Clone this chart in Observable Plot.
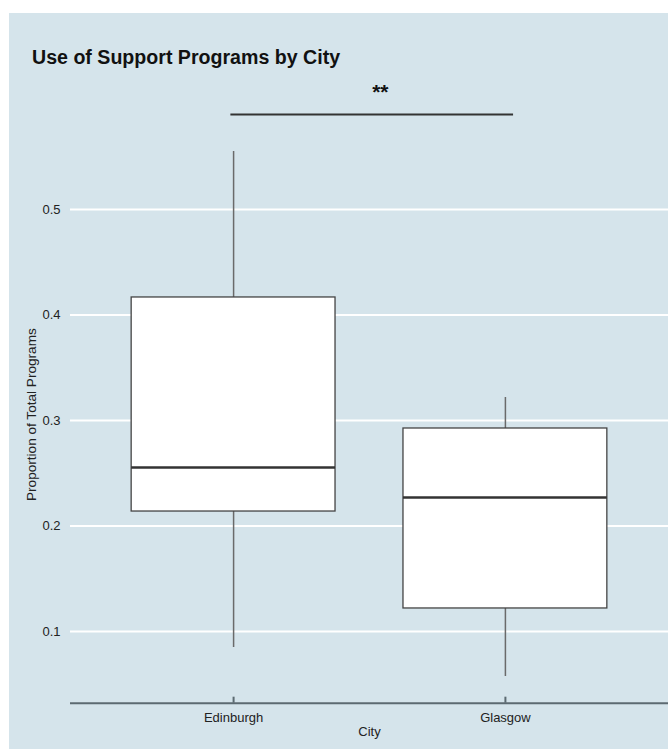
<!DOCTYPE html>
<html>
<head>
<meta charset="utf-8">
<script src="https://cdn.jsdelivr.net/npm/d3@7"></script>
<script src="https://cdn.jsdelivr.net/npm/@observablehq/plot@0.6"></script>
<style>
  html, body { margin: 0; padding: 0; background: #ffffff; }
  #page { position: relative; width: 668px; height: 749px; overflow: hidden; }
  #bg { position: absolute; left: 9px; top: 13px; width: 659px; height: 736px; background: #d5e4eb; }
  #title { position: absolute; left: 32px; top: 46px; font-family: "Liberation Sans", Arial, sans-serif;
           font-weight: bold; font-size: 19.6px; color: #111; white-space: nowrap; }
  #chart { position: absolute; left: 0; top: 0; }
</style>
</head>
<body>
<div id="page">
  <div id="bg"></div>
  <div id="title">Use of Support Programs by City</div>
  <div id="chart"></div>
</div>
<script>
// Data
const cities = ["Edinburgh", "Glasgow"];
const whiskerLow = [0.0848, 0.0573];
const q1 = [0.2137, 0.1218];
const median = [0.2555, 0.227];
const q3 = [0.4166, 0.2924];
const whiskerHigh = [0.555, 0.3218];
const yTicks = [0.1, 0.2, 0.3, 0.4, 0.5];
const sigBarX = [0.99, 2.03];
const sigBarY = 0.590;
const sigLabel = "**";
const sigLabelX = 1.54;
const sigLabelY = 0.611;
const yAxisTitle = "Proportion of Total Programs";
const xAxisTitle = "City";

const rows = cities.map((c, i) => ({
  city: c, pos: i + 1,
  low: whiskerLow[i], q1: q1[i], median: median[i], q3: q3[i], high: whiskerHigh[i]
}));

const yMin = 0.032, yMax = 0.6;
const halfW = 0.375;

const chart = Plot.plot({
  width: 668,
  height: 749,
  marginLeft: 70,
  marginRight: 0,
  marginTop: 103.5,
  marginBottom: 46.3,
  style: { fontFamily: "'Liberation Sans', Arial, sans-serif", fontSize: "13px", background: "transparent", color: "#222", overflow: "visible" },
  x: { domain: [0.4, 2.6], ticks: [1, 2], tickFormat: d => cities[d - 1], tickSize: 0, tickPadding: 10, label: null },
  y: { domain: [yMin, yMax], ticks: yTicks, tickFormat: d => d.toFixed(1), tickSize: 0, tickPadding: 10, label: null },
  marks: [
    Plot.ruleY(yTicks, { stroke: "#ffffff", strokeWidth: 2 }),
    Plot.ruleX(rows, { x: "pos", y1: "low", y2: "high", stroke: "#6a6a6a", strokeWidth: 1.5 }),
    Plot.rectY(rows, { x1: d => d.pos - halfW, x2: d => d.pos + halfW, y1: "q1", y2: "q3", fill: "#ffffff", stroke: "#444", strokeWidth: 1.3 }),
    Plot.ruleY(rows, { x1: d => d.pos - halfW, x2: d => d.pos + halfW, y: "median", stroke: "#333", strokeWidth: 2.5 }),
    Plot.ruleY([yMin], { stroke: "#5c6a71", strokeWidth: 2 }),
    Plot.ruleX([1, 2], { x: d => d, y1: yMin, y2: yMin + 0.0057, stroke: "#5c6a71", strokeWidth: 2 }),
    Plot.ruleY([sigBarY], { x1: sigBarX[0], x2: sigBarX[1], stroke: "#333", strokeWidth: 2 }),
    Plot.text([sigLabel], { x: sigLabelX, y: sigLabelY, text: d => d, fontWeight: "bold", fontSize: 21, fill: "#111" }),
    Plot.text([xAxisTitle], { frameAnchor: "bottom", dy: 33, text: d => d, fontSize: 13, fill: "#222" }),
    Plot.text([yAxisTitle], { frameAnchor: "left", textAnchor: "middle", dx: -39, dy: 11, rotate: -90, text: d => d, fontSize: 13.6, fill: "#222" })
  ]
});
document.getElementById("chart").appendChild(chart);
</script>
</body>
</html>
